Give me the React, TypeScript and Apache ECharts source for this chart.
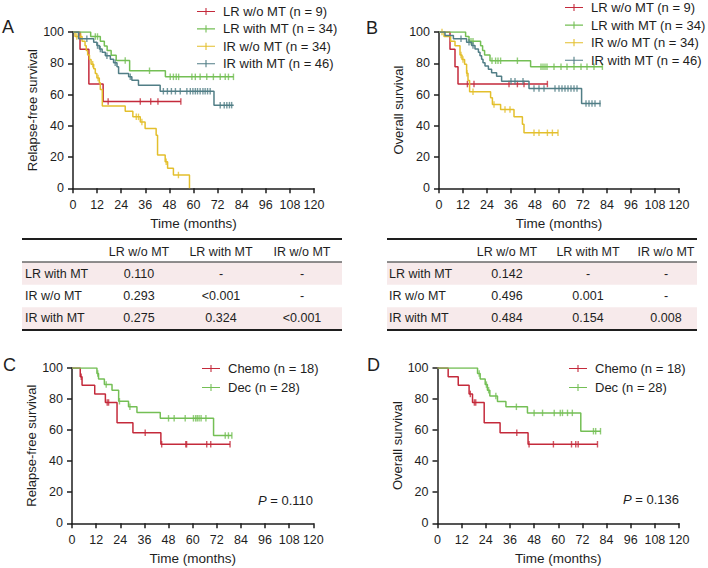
import React, { useEffect, useRef } from 'react';
import * as echarts from 'echarts';

const FONT = '"Liberation Sans", Arial, Helvetica, sans-serif';
const RED = '#c42a3b';
const GREEN = '#74bf55';
const YELLOW = '#e3bf2c';
const TEAL = '#517e86';
const PINK = '#f7eaeb';
const INK = '#1e1e1e';

// ---------- legend names ----------
const groupNamesAB = ['LR w/o MT (n = 9)', 'LR with MT (n = 34)', 'IR w/o MT (n = 34)', 'IR with MT (n = 46)'];
const groupNamesCD = ['Chemo (n = 18)', 'Dec (n = 28)'];

// ---------- Panel A: relapse-free survival ----------
const aLRwo = [[0, 100], [3.5, 88.9], [7.9, 66.7], [15, 55.6], [53.7, 55.6]];
const aLRwoCens = [17.5, 33.5, 38.7, 42.3, 53.7];
const aLRw = [[0, 100], [8.8, 97.1], [13.6, 94.1], [15.6, 91.1], [17, 88.2], [19, 85.2], [21.5, 81.8], [28.2, 75.2], [46, 71.3], [80, 71.3]];
const aLRwCens = [11.1, 12.2, 26, 38.1, 48.4, 50, 51.4, 52.6, 59.2, 60.9, 63.3, 66.6, 69.9, 73.3, 75.8, 77.4, 79.9];
const aIRwo = [[0, 100], [1, 97.1], [4.5, 94.1], [6, 91.2], [6.6, 88.2], [7.3, 85.3], [8.2, 82.4], [9, 79.4], [10.3, 76.5], [11.1, 73.5], [11.9, 70.6], [13.1, 67.6], [13.6, 63.2], [14.6, 52.6], [26, 49.3], [29.8, 45.7], [33.5, 42.4], [35.9, 38.3], [41.4, 34.0], [42.1, 21.3], [45.9, 17.0], [47.1, 12.8], [50, 8.5], [58, 0]];
const aIRwoCens = [1.9, 3.9, 9.8, 12.5, 31.5, 32.6, 34.3, 46.4, 52.5];
const aIRw = [[0, 100], [2.8, 95.7], [10.3, 93.5], [11.9, 91.3], [13.1, 89.1], [14.5, 87], [16.1, 84.8], [18.6, 82.6], [20.2, 80.4], [21.9, 77.7], [22.7, 73.4], [27.7, 71.3], [29.3, 69.1], [32.6, 66], [43.4, 62.1], [70.2, 53.2], [80, 53.2]];
const aIRwCens = [6.9, 12.2, 13.6, 16.9, 21, 28.5, 45, 47, 49, 51, 53.4, 56.7, 58.4, 59.7, 60.9, 62, 63.3, 64.7, 65.8, 67, 68.3, 73.3, 75.3, 76.6, 77.9, 79];

// ---------- Panel B: overall survival ----------
const bLRwo = [[0, 100], [5.5, 88.9], [8, 77.8], [9.5, 66.7], [54.2, 66.7]];
const bLRwoCens = [14.2, 17.5, 35, 39.2, 42.5, 54.2];
const bLRw = [[0, 100], [13.3, 97.1], [15, 94.1], [20.8, 91.2], [21.8, 88.2], [22.8, 85.3], [25.5, 81.6], [45.8, 77.8], [81.7, 77.8]];
const bLRwCens = [16, 17, 26.5, 28.3, 29.5, 30.8, 39.2, 51, 52, 53, 54, 57.5, 61, 64, 67.5, 71, 74, 77.5, 81.7];
const bIRwo = [[0, 100], [2.5, 97.1], [5.8, 94.1], [8, 91.2], [10.5, 85.3], [11.5, 82.4], [12.8, 79.4], [13.8, 73.6], [14.5, 69], [15.3, 61.7], [25.8, 58], [26.7, 53.6], [30.8, 50.4], [37.5, 45.7], [41.7, 41], [42.5, 35.5], [59.5, 35.5]];
const bIRwoCens = [1.5, 11, 12, 14, 17, 27.5, 33, 35.5, 47.5, 50, 54.2, 56.7, 59.5];
const bIRw = [[0, 100], [3, 97.8], [7.2, 95.7], [13.8, 93.5], [16.3, 91.3], [18, 89.1], [19.7, 87], [20.5, 84.8], [21.3, 82.6], [22, 80.4], [23, 78.3], [24.7, 76.1], [26.3, 73.9], [28.8, 71.7], [31.3, 68.5], [45, 63.8], [71.3, 54.3], [80.8, 54.3]];
const bIRwCens = [11, 15, 17, 36, 38, 42, 47.5, 50, 52.5, 58, 60, 61.5, 63, 64.5, 66, 67.5, 69, 73.5, 75, 76.5, 78, 80.5];

// ---------- Panel C: relapse-free survival ----------
const cChemo = [[0, 100], [4.1, 94.4], [5, 88.9], [11.3, 83.3], [16.6, 77.8], [22.4, 64.8], [30.3, 58.3], [44.2, 50.9], [78.6, 50.9]];
const cChemoCens = [4.6, 17.5, 18.2, 36.4, 44.6, 56.6, 57, 67, 69, 78.6];
const cDec = [[0, 100], [12.4, 96.4], [13.2, 92.9], [16.1, 89.3], [19.9, 85.7], [23.2, 78.6], [28.1, 75], [32.3, 71.4], [43.9, 67.6], [70.4, 56.5], [79.5, 56.5]];
const cDecCens = [12.8, 17, 23.6, 28.8, 48, 50.8, 56.3, 60.4, 61.5, 62.3, 63.2, 64.2, 66.6, 76.2, 77.8, 79.5];

// ---------- Panel D: overall survival ----------
const dChemo = [[0, 100], [5.3, 94.4], [10.3, 88.9], [15.7, 83.3], [17.4, 77.8], [23.2, 64.8], [31.1, 58.3], [45, 50.9], [79.5, 50.9]];
const dChemoCens = [16.3, 18.3, 19, 39.4, 45.5, 57.6, 66.6, 68.7, 69.9, 79.5];
const dDec = [[0, 100], [19.9, 96.4], [21.2, 92.9], [23.7, 89.3], [24.8, 85.7], [26, 81.9], [29.8, 78.4], [34, 75], [44.7, 71.1], [71.2, 59.3], [81.1, 59.3]];
const dDecCens = [20.7, 24.3, 25.4, 29, 39.2, 48, 52.2, 58, 61, 62.1, 64.6, 67, 77.5, 78.6, 81];

// ---------- tables ----------
const tableHeaders = ['LR w/o MT', 'LR with MT', 'IR w/o MT'];
const tableRowLabels = ['LR with MT', 'IR w/o MT', 'IR with MT'];
const tableA = [['0.110', '-', '-'], ['0.293', '<0.001', '-'], ['0.275', '0.324', '<0.001']];
const tableB = [['0.142', '-', '-'], ['0.496', '0.001', '-'], ['0.484', '0.154', '0.008']];

// ---------- p values / axis labels ----------
const pValueC = '0.110';
const pValueD = '0.136';
const xTitle = 'Time (months)';
const yTitles = ['Relapse-free survival', 'Overall survival', 'Relapse-free survival', 'Overall survival'];
const panelLetters = ['A', 'B', 'C', 'D'];

const grids = [
  { left: 73, top: 32, width: 241, height: 156.3 },
  { left: 439, top: 32, width: 240, height: 156.3 },
  { left: 72, top: 368, width: 241.3, height: 155.3 },
  { left: 437.5, top: 368, width: 241.5, height: 155.3 },
];

const levelAt = (steps: number[][], t: number) => {
  let v = steps[0][1];
  for (const p of steps) if (p[0] <= t) v = p[1];
  return v;
};

const panels = [
  { groups: [
    { name: groupNamesAB[0], color: RED, steps: aLRwo, cens: aLRwoCens },
    { name: groupNamesAB[1], color: GREEN, steps: aLRw, cens: aLRwCens },
    { name: groupNamesAB[2], color: YELLOW, steps: aIRwo, cens: aIRwoCens },
    { name: groupNamesAB[3], color: TEAL, steps: aIRw, cens: aIRwCens },
  ] },
  { groups: [
    { name: groupNamesAB[0], color: RED, steps: bLRwo, cens: bLRwoCens },
    { name: groupNamesAB[1], color: GREEN, steps: bLRw, cens: bLRwCens },
    { name: groupNamesAB[2], color: YELLOW, steps: bIRwo, cens: bIRwoCens },
    { name: groupNamesAB[3], color: TEAL, steps: bIRw, cens: bIRwCens },
  ] },
  { groups: [
    { name: groupNamesCD[0], color: RED, steps: cChemo, cens: cChemoCens },
    { name: groupNamesCD[1], color: GREEN, steps: cDec, cens: cDecCens },
  ] },
  { groups: [
    { name: groupNamesCD[0], color: RED, steps: dChemo, cens: dChemoCens },
    { name: groupNamesCD[1], color: GREEN, steps: dDec, cens: dDecCens },
  ] },
];

const LEGEND_ICON = 'path://M0,3.4H20V4.6H0ZM9.4,0H10.6V8H9.4Z';

function buildTable(left: number, right: number, labelX: number, colX: number[], cells: string[][]) {
  const els: any[] = [];
  const rowTop = [262.5, 285, 307.3];
  const rowH = 22.3;
  els.push({ type: 'rect', shape: { x: left, y: rowTop[0], width: right - left, height: rowH }, style: { fill: PINK } });
  els.push({ type: 'rect', shape: { x: left, y: rowTop[2], width: right - left, height: rowH }, style: { fill: PINK } });
  els.push({ type: 'line', shape: { x1: left, y1: 239, x2: right, y2: 239 }, style: { stroke: INK, lineWidth: 2 } });
  els.push({ type: 'line', shape: { x1: left, y1: 262, x2: right, y2: 262 }, style: { stroke: INK, lineWidth: 1 } });
  els.push({ type: 'line', shape: { x1: left, y1: 330, x2: right, y2: 330 }, style: { stroke: INK, lineWidth: 2 } });
  const txt = (text: string, x: number, y: number, align: string) => ({
    type: 'text', x, y,
    style: { text, fill: INK, fontSize: 12.5, fontFamily: FONT, align, verticalAlign: 'middle' },
  });
  tableHeaders.forEach((h, i) => els.push(txt(h, colX[i], 251.5, 'center')));
  tableRowLabels.forEach((r, j) => {
    const cy = rowTop[j] + rowH / 2;
    els.push(txt(r, labelX, cy, 'left'));
    cells[j].forEach((c, i) => els.push(txt(c, colX[i], cy, 'center')));
  });
  return els;
}

export default function App() {
  const ref = useRef<HTMLDivElement>(null);
  useEffect(() => {
    if (!ref.current) return;
    const chart = echarts.init(ref.current, undefined, { renderer: 'svg' });
    const series: any[] = [];
    panels.forEach((p, pi) => {
      p.groups.forEach((g, gi) => {
        series.push({
          type: 'line', name: g.name, xAxisIndex: pi, yAxisIndex: pi,
          data: g.steps, step: 'end', showSymbol: false, symbol: 'none',
          color: g.color, lineStyle: { color: g.color, width: 1.5 }, z: 2 + gi,
        });
        series.push({
          type: 'scatter', name: `cens-${pi}-${gi}`, xAxisIndex: pi, yAxisIndex: pi,
          data: g.cens.map((t) => [t, levelAt(g.steps, t)]),
          symbol: 'rect', symbolSize: [1.4, 6.5], itemStyle: { color: g.color }, z: 2 + gi,
        });
      });
    });
    const axisCommon = {
      axisLine: { show: true, lineStyle: { color: INK, width: 1.5 } },
      axisTick: { show: true, inside: false, length: 5, lineStyle: { color: INK, width: 1.5 } },
      splitLine: { show: false },
      nameLocation: 'middle',
      nameTextStyle: { color: INK, fontSize: 13, fontFamily: FONT },
    };
    const xAxis = grids.map((_, i) => ({
      ...axisCommon, type: 'value', gridIndex: i, min: 0, max: 120, interval: 12,
      name: xTitle, nameGap: 28, nameTextStyle: { color: INK, fontSize: 13.5, fontFamily: FONT },
      axisLabel: { color: INK, fontSize: 12.5, fontFamily: FONT, margin: 10 },
    }));
    const yAxis = grids.map((_, i) => ({
      ...axisCommon, type: 'value', gridIndex: i, min: 0, max: 100, interval: 20,
      name: yTitles[i], nameGap: 34,
      axisLabel: { color: INK, fontSize: 12.5, fontFamily: FONT, margin: 9 },
    }));
    const legendCommon = {
      orient: 'vertical', icon: LEGEND_ICON, itemWidth: 18, itemHeight: 8,
      textStyle: { color: INK, fontSize: 13, fontFamily: FONT, lineHeight: 15, padding: [0, 0, 0, 3] },
      selectedMode: false,
    };
    const legend = [
      { ...legendCommon, left: 192, top: -1, itemGap: 2.4, data: groupNamesAB },
      { ...legendCommon, left: 560, top: -5, itemGap: 2.6, data: groupNamesAB },
      { ...legendCommon, left: 197, top: 356, itemGap: 4, data: groupNamesCD },
      { ...legendCommon, left: 564, top: 356, itemGap: 4, data: groupNamesCD },
    ];
    const letterPos = [[2, 27], [366, 28], [3, 365], [367, 365]];
    const graphic: any[] = [];
    panelLetters.forEach((l, i) => graphic.push({
      type: 'text', x: letterPos[i][0], y: letterPos[i][1],
      style: { text: l, fill: INK, fontSize: 18, fontFamily: FONT, align: 'left', verticalAlign: 'middle' },
    }));
    [[313, 500, pValueC], [679, 499.5, pValueD]].forEach(([x, y, v]) => graphic.push({
      type: 'text', x, y,
      style: {
        text: `{i|P} = ${v}`, fill: INK, fontSize: 13, fontFamily: FONT, align: 'right', verticalAlign: 'middle',
        rich: { i: { fontStyle: 'italic', fontSize: 13, fontFamily: FONT, fill: INK } },
      },
    }));
    graphic.push(...buildTable(22, 342, 25, [139, 221, 302], tableA));
    graphic.push(...buildTable(387, 697, 389, [507, 588, 666], tableB));

    chart.setOption({
      animation: false,
      backgroundColor: '#ffffff',
      textStyle: { fontFamily: FONT },
      grid: grids,
      xAxis, yAxis, legend, series, graphic,
    });
    return () => chart.dispose();
  }, []);
  return <div ref={ref} style={{ position: 'fixed', left: 0, top: 0, width: 708, height: 568 }} />;
}
